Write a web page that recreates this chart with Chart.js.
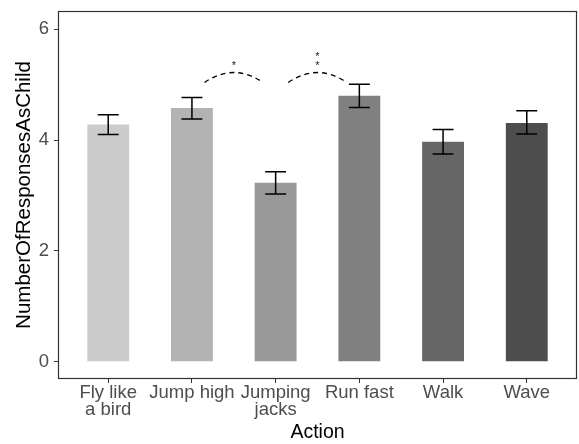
<!DOCTYPE html>
<html>
<head>
<meta charset="utf-8">
<script src="https://cdn.jsdelivr.net/npm/chart.js@4.4.1/dist/chart.umd.min.js"></script>
<style>
  html, body { margin: 0; padding: 0; background: #ffffff; }
  #wrap { width: 579px; height: 444px; }
</style>
</head>
<body>
<div id="wrap"><canvas id="c" width="579" height="444"></canvas></div>
<script>
// Actions shown on the x axis (multi-line where the label wraps)
const actions = [['Fly like', 'a bird'], 'Jump high', ['Jumping', 'jacks'], 'Run fast', 'Walk', 'Wave'];
// Mean number of responses as child, with lower / upper error bar ends
const meanResponses = [4.28, 4.58, 3.23, 4.80, 3.97, 4.31];
const errLow  = [4.10, 4.38, 3.03, 4.59, 3.75, 4.11];
const errHigh = [4.46, 4.77, 3.43, 5.01, 4.19, 4.53];
const barFills = ['#cccccc', '#b3b3b3', '#999999', '#808080', '#666666', '#4d4d4d'];
const yTicks = [0, 2, 4, 6];
// Significance brackets between neighbouring actions (positions on the action axis)
const sigFrom = [1.15, 2.15];
const sigTo   = [1.85, 2.85];
const sigBase = [5.04, 5.04];
const sigTop  = [5.22, 5.22];
const sigText = [['*'], ['*', '*']];

Chart.defaults.font.family = '"Liberation Sans", Arial, sans-serif';
Chart.defaults.animation = false;

const errorBars = {
  id: 'errorBars',
  afterDatasetsDraw(chart) {
    const { ctx, scales: { x, y } } = chart;
    const half = (x.getPixelForValue(1) - x.getPixelForValue(0)) * 0.125;
    ctx.save();
    ctx.strokeStyle = '#000000';
    ctx.lineWidth = 1.5;
    meanResponses.forEach((_, i) => {
      const px = x.getPixelForValue(i);
      const lo = y.getPixelForValue(errLow[i]);
      const hi = y.getPixelForValue(errHigh[i]);
      ctx.beginPath();
      ctx.moveTo(px, hi); ctx.lineTo(px, lo);
      ctx.moveTo(px - half, hi); ctx.lineTo(px + half, hi);
      ctx.moveTo(px - half, lo); ctx.lineTo(px + half, lo);
      ctx.stroke();
    });
    ctx.restore();
  }
};

const sigBrackets = {
  id: 'sigBrackets',
  afterDatasetsDraw(chart) {
    const { ctx, scales: { x, y } } = chart;
    ctx.save();
    sigFrom.forEach((from, i) => {
      const x0 = x.getPixelForValue(from);
      const x1 = x.getPixelForValue(sigTo[i]);
      const yb = y.getPixelForValue(sigBase[i]);
      const yt = y.getPixelForValue(sigTop[i]);
      const xm = (x0 + x1) / 2;
      // quadratic curve whose midpoint reaches the bracket top
      ctx.beginPath();
      ctx.setLineDash([5, 4]);
      ctx.strokeStyle = '#000000';
      ctx.lineWidth = 1.3;
      ctx.moveTo(x0, yb);
      ctx.quadraticCurveTo(xm, 2 * yt - yb, x1, yb);
      ctx.stroke();
      ctx.setLineDash([]);
      ctx.fillStyle = '#222222';
      ctx.font = '11px "Liberation Sans", Arial, sans-serif';
      ctx.textAlign = 'center';
      ctx.textBaseline = 'middle';
      const lines = sigText[i];
      lines.forEach((t, k) => {
        ctx.fillText(t, xm, yt - 7 - (lines.length - 1 - k) * 9);
      });
    });
    ctx.restore();
  }
};

const panelBorder = {
  id: 'panelBorder',
  afterDraw(chart) {
    const { ctx, chartArea: a } = chart;
    ctx.save();
    ctx.strokeStyle = '#333333';
    ctx.lineWidth = 1.2;
    ctx.strokeRect(a.left + 0.5, a.top + 0.5, a.right - a.left - 1, a.bottom - a.top - 1);
    ctx.restore();
  }
};

new Chart(document.getElementById('c'), {
  type: 'bar',
  data: {
    datasets: [{
      data: meanResponses.map((v, i) => ({ x: i, y: v })),
      backgroundColor: barFills,
      borderWidth: 0,
      barPercentage: 0.5,
      categoryPercentage: 1
    }]
  },
  options: {
    responsive: false,
    devicePixelRatio: 1,
    layout: { padding: { top: 11, right: 2, left: 0, bottom: 0 } },
    plugins: { legend: { display: false }, tooltip: { enabled: false } },
    scales: {
      x: {
        type: 'linear',
        min: -0.6,
        max: 5.6,
        offset: false,
        afterBuildTicks: s => { s.ticks = actions.map((_, i) => ({ value: i })); },
        afterFit: s => { s.height = 65; s.paddingLeft = 0; s.paddingRight = 0; },
        ticks: {
          autoSkip: false,
          maxRotation: 0,
          padding: 2,
          color: '#4d4d4d',
          font: { size: 18.5, lineHeight: 0.9 },
          callback: v => actions[v]
        },
        grid: { display: true, offset: false, drawOnChartArea: false, drawTicks: true, tickLength: 4, color: '#333333' },
        border: { display: false },
        title: { display: true, text: 'Action', color: '#000000', font: { size: 19.5 }, padding: { top: 0, bottom: 0 } }
      },
      y: {
        type: 'linear',
        min: -0.31,
        max: 6.33,
        afterBuildTicks: s => { s.ticks = yTicks.map(v => ({ value: v })); },
        afterFit: s => { s.width = 58; s.paddingTop = 0; s.paddingBottom = 0; },
        ticks: { padding: 5, color: '#4d4d4d', font: { size: 18.5 } },
        grid: { display: true, drawOnChartArea: false, drawTicks: true, tickLength: 4, color: '#333333' },
        border: { display: false },
        title: { display: true, text: 'NumberOfResponsesAsChild', color: '#000000', font: { size: 20.5 }, padding: { top: 12, bottom: 0 } }
      }
    }
  },
  plugins: [errorBars, sigBrackets, panelBorder]
});
</script>
</body>
</html>
